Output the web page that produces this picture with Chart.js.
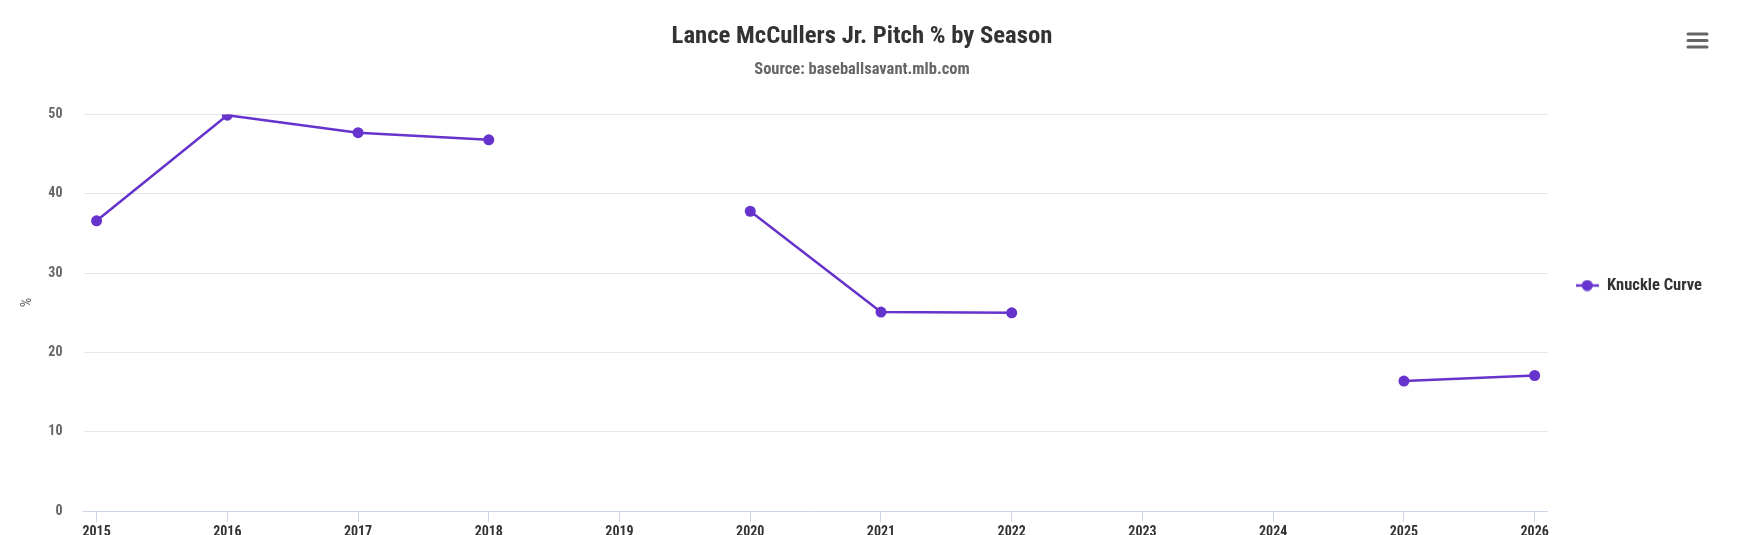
<!DOCTYPE html>
<html>
<head>
<meta charset="utf-8">
<title>Lance McCullers Jr. Pitch % by Season</title>
<script src="https://cdn.jsdelivr.net/npm/chart.js@4.4.1/dist/chart.umd.min.js"></script>
<style>
    html, body { margin: 0; padding: 0; background: #fff; overflow: hidden; }
    #wrap { position: relative; width: 1746px; height: 543px; }
</style>
</head>
<body>
<div id="wrap"><canvas id="pitchChart"></canvas></div>
<script>
const seasons = [2015, 2016, 2017, 2018, 2019, 2020, 2021, 2022, 2023, 2024, 2025, 2026];
const knuckleCurve = [36.6, 49.9, 47.7, 46.8, null, 37.8, 25.1, 25.0, null, null, 16.4, 17.1];
const seriesName = 'Knuckle Curve';
const purple = '#6633cc';

const FONT = "'Roboto Condensed', 'Liberation Sans Narrow', 'DejaVu Sans Condensed', Roboto, sans-serif";
Chart.defaults.font.family = FONT;

// legend symbol: short line with a dot in the middle
function legendSymbol() {
    const c = document.createElement('canvas');
    c.width = 23;
    c.height = 12;
    const g = c.getContext('2d');
    g.strokeStyle = purple;
    g.lineWidth = 2.5;
    g.beginPath();
    g.moveTo(0, 6);
    g.lineTo(23, 6);
    g.stroke();
    g.fillStyle = purple;
    g.beginPath();
    g.arc(11.5, 6, 5.5, 0, Math.PI * 2);
    g.fill();
    return c;
}

// title sits a bit right of centre (room for the menu button), legend a bit lower
const nudgeBoxes = {
    id: 'nudgeBoxes',
    afterLayout(chart) {
        chart.boxes.forEach(b => {
            if (b.options && 'text' in b.options) {
                b.left += 6;
                b.right += 6;
            }
        });
        chart.legend.top += 14;
        chart.legend.bottom += 14;
    }
};

const menuButton = {
    id: 'menuButton',
    afterDraw(chart) {
        const ctx = chart.ctx;
        ctx.save();
        ctx.strokeStyle = '#666';
        ctx.lineWidth = 3;
        ctx.lineCap = 'round';
        [34, 40.5, 47].forEach(y => {
            ctx.beginPath();
            ctx.moveTo(1688, y);
            ctx.lineTo(1707, y);
            ctx.stroke();
        });
        ctx.restore();
    }
};

const ctx = document.getElementById('pitchChart').getContext('2d');

new Chart(ctx, {
    type: 'line',
    data: {
        datasets: [{
            label: seriesName,
            data: seasons.map((s, i) => ({ x: s, y: knuckleCurve[i] })),
            borderColor: purple,
            backgroundColor: purple,
            borderWidth: 2.5,
            pointRadius: 5.5,
            pointBackgroundColor: purple,
            pointBorderWidth: 0,
            spanGaps: false,
            fill: false,
            tension: 0
        }]
    },
    options: {
        responsive: true,
        maintainAspectRatio: false,
        animation: false,
        layout: {
            padding: { left: 0, right: 34, top: 0, bottom: 0 }
        },
        plugins: {
            title: {
                display: true,
                text: 'Lance McCullers Jr. Pitch % by Season',
                color: '#333333',
                font: { size: 24.7, weight: 'bold' },
                padding: { top: 22, bottom: 0 }
            },
            subtitle: {
                display: true,
                text: 'Source: baseballsavant.mlb.com',
                color: '#666666',
                font: { size: 16.5, weight: 'bold' },
                padding: { top: 8, bottom: 35 }
            },
            legend: {
                position: 'right',
                labels: {
                    usePointStyle: true,
                    pointStyle: legendSymbol(),
                    pointStyleWidth: 23,
                    padding: 28,
                    color: '#333333',
                    font: { size: 16.5, weight: 'bold' }
                }
            },
            tooltip: { enabled: false }
        },
        scales: {
            x: {
                type: 'linear',
                min: 2014.9,
                max: 2026.1,
                border: { color: '#ccd6eb', width: 1 },
                grid: {
                    drawOnChartArea: false,
                    drawTicks: true,
                    tickLength: 11,
                    color: '#ccd6eb'
                },
                ticks: {
                    stepSize: 1,
                    includeBounds: false,
                    maxTicksLimit: 20,
                    autoSkip: false,
                    maxRotation: 0,
                    padding: 2,
                    color: '#333333',
                    font: { size: 14, weight: 'bold' },
                    callback: v => String(v)
                }
            },
            y: {
                min: 0,
                max: 50,
                border: { display: false },
                afterFit(scale) { scale.width = 83.5; },
                title: {
                    display: true,
                    text: '      %',
                    color: '#666666',
                    font: { size: 15, weight: 'normal' },
                    padding: { top: 18, bottom: 0 }
                },
                grid: {
                    color: '#e6e6e6',
                    drawTicks: false
                },
                ticks: {
                    stepSize: 10,
                    padding: 21,
                    color: '#666666',
                    font: { size: 14, weight: 'bold' }
                }
            }
        }
    },
    plugins: [nudgeBoxes, menuButton]
});
</script>
</body>
</html>
